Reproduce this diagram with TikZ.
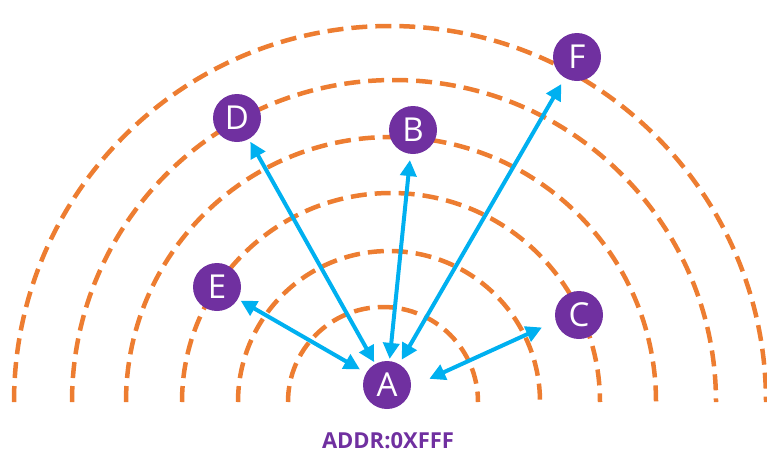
\documentclass[tikz,border=0pt]{standalone}
\usepackage{fontspec}
\setmainfont{Open Sans}
\usetikzlibrary{arrows.meta}
\definecolor{ringorange}{RGB}{237,125,49}
\definecolor{linkblue}{RGB}{0,176,240}
\definecolor{nodepurple}{RGB}{112,48,160}
\tikzset{
  ring/.style={draw=ringorange,line width=4.5pt,dash pattern=on 16pt off 8pt},
  station/.style={circle,fill=nodepurple,text=white,minimum size=48pt,inner sep=0pt,font=\fontsize{33}{33}\selectfont},
  link/.style={{Triangle[length=16pt,width=16pt]}-{Triangle[length=16pt,width=16pt]},line width=4pt,draw=linkblue},
  addr/.style={text=nodepurple,font=\fontsize{22}{22}\selectfont\bfseries}
}
\begin{document}
\begin{tikzpicture}[x=1pt,y=-1pt]
\useasboundingbox (0,0) rectangle (767,459);
% range rings
\foreach \cx/\r in {383/95,389/151,391/209,391/265,394/322,390/376}
  \draw[ring] (\cx-\r,402) arc[start angle=180,end angle=360,radius=\r];
% stations
\node[station] (A) at (387,385) {A};
\node[station] (B) at (413,130) {B};
\node[station] (C) at (579,315) {C};
\node[station] (D) at (237,118) {D};
\node[station] (E) at (217,287) {E};
\node[station] (F) at (577,57) {F};
\node[addr] (addr) at (388,441) {ADDR:0XFFF};
% links to A
\draw[link,shorten <=3pt,shorten >=7pt] (E) -- (A);
\draw[link,shorten <=3pt,shorten >=2pt] (D) -- (A);
\draw[link,shorten <=6pt,shorten >=2pt] (B) -- (A);
\draw[link,shorten <=7pt,shorten >=5pt] (F) -- (A);
\draw[link,shorten <=15pt,shorten >=20pt] (C.195) -- (A.-5);
\end{tikzpicture}
\end{document}
